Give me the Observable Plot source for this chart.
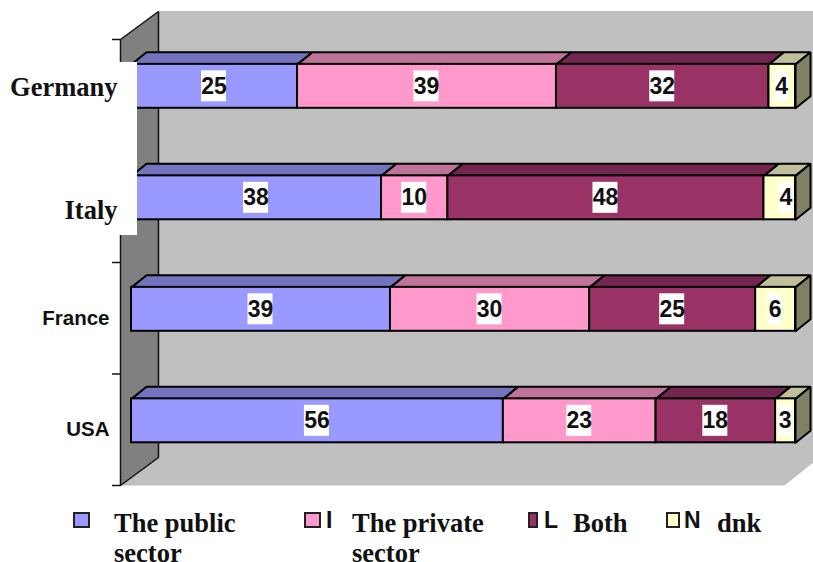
<!DOCTYPE html>
<html>
<head>
<meta charset="utf-8">
<script src="https://cdn.jsdelivr.net/npm/d3@7"></script>
<script src="https://cdn.jsdelivr.net/npm/@observablehq/plot@0.6"></script>
<style>
html,body{margin:0;padding:0;background:#fff;overflow:hidden}
#wrap{position:relative;width:813px;height:562px;overflow:hidden}
#chart{position:absolute;left:0;top:0}
#legend span,#legend i{position:absolute;display:block}
.name{font:bold 26.5px/30px "Liberation Serif","Times New Roman",serif;color:#111;white-space:pre}
.stray{font:bold 23px/22px "Liberation Sans",Arial,sans-serif;color:#111;white-space:pre}
.sw{box-sizing:border-box;border:2px solid #222}
</style>
</head>
<body>
<div id="wrap"><div id="chart"></div><div id="legend"></div></div>
<script>
// ---- data (bottom row first) ----
const rows = ["USA", "France", "Italy", "Germany"];
const series = ["The public sector", "The private sector", "Both", "dnk"];
const usaShares = [56, 23, 18, 3];
const franceShares = [39, 30, 25, 6];
const italyShares = [37.65, 10, 47.6, 4.75];
const germanyShares = [25, 39, 32, 4];
const usaLabels = [56, 23, 18, 3];
const franceLabels = [39, 30, 25, 6];
const italyLabels = [38, 10, 48, 4];
const germanyLabels = [25, 39, 32, 4];
const shares = [usaShares, franceShares, italyShares, germanyShares];
const labels = [usaLabels, franceLabels, italyLabels, germanyLabels];
const ticks = [0, 1, 2, 3, 4];

// ---- colours ----
const front = ["#9999FF", "#FF99CC", "#993366", "#FFFFCC"];
const top_ = ["#7373BF", "#BF7399", "#732650", "#BFBF99"];
const sideColor = "#808066";

// ---- 3D geometry, in scale units ----
const wallDx = 5.72, wallDy = 0.251;   // depth of the chart box
const barX = 1.66, barDx = 2.26, barDy = 0.108; // bar position and depth
const barMid = 0.58, barHalf = 0.197;
const pxX = 1 / 6.64, pxY = 1 / 111.5;

const polys = [];
const addPoly = (id, color, pts) =>
  [...pts, pts[0]].forEach(([x, y]) => polys.push({id, color, x, y}));

const fronts = [], tags = [];
rows.forEach((row, r) => {
  let a = 0;
  const yc = r + barMid, y1 = yc - barHalf, y2 = yc + barHalf;
  shares[r].forEach((v, s) => {
    const b = a + v, x1 = barX + a, x2 = barX + b;
    addPoly(`top-${r}-${s}`, top_[s], [[x1, y2], [x2, y2], [x2 + barDx, y2 + barDy], [x1 + barDx, y2 + barDy]]);
    if (s === series.length - 1)
      addPoly(`side-${r}`, sideColor, [[x2, y1], [x2 + barDx, y1 + barDy], [x2 + barDx, y2 + barDy], [x2, y2]]);
    fronts.push({x1, x2, y1, y2, color: front[s]});
    const nudge = (r === 2 && s === 3) ? 1.0 : 0;
    const text = String(labels[r][s]);
    const half = (text.length === 1 ? 7 : 12.5) * pxX;
    const mid = (x1 + x2) / 2 + nudge - 0.5 * pxX;
    tags.push({text, x: mid, y: yc, x1: mid - half, x2: mid + half,
               y1: yc - 15.5 * pxY, y2: yc + 15.5 * pxY});
    a = b;
  });
});

addPoly("wall", "#808080", [[0, 0], [wallDx, wallDy], [wallDx, 4 + wallDy], [0, 4]]);
const floor = [];
[[0, 0], [wallDx, wallDy + 0.02], [100 + wallDx, wallDy + 0.02], [100, 0], [0, 0]]
  .forEach(([x, y]) => floor.push({x, y}));

const polyLine = (data, stroke, strokeWidth) => Plot.line(data, {
  x: "x", y: "y", z: "id", fill: "color", stroke, strokeWidth, strokeLinejoin: "miter"
});
const wallPts = polys.filter(d => d.id === "wall");
const barPts = polys.filter(d => d.id !== "wall");

const mask = [{x1: -20, x2: 2.56, y1: 2.242, y2: 3.794}];
const rowNames = rows.map((name, i) => ({name, i}));
const serifText = (data, dy) => Plot.text(data, {x: -0.45, y: d => d.i + barMid, text: "name", fill: "#111",
  fontSize: 26.5, fontWeight: "bold", fontFamily: "Liberation Serif, Times New Roman, serif",
  textAnchor: "end", lineAnchor: "middle", dy});

const chart = Plot.plot({
  width: 813, height: 505,
  margin: 0,
  style: {background: "transparent"},
  x: {domain: [0, 100], range: [120, 784], axis: null},
  y: {domain: [0, 4], range: [485, 39], axis: null},
  color: {type: "identity"},
  marks: [
    Plot.rect([{}], {x1: wallDx, x2: 100 + wallDx, y1: wallDy, y2: 4 + wallDy, fill: "#C0C0C0"}),
    Plot.line(floor, {x: "x", y: "y", fill: "#C0C0C0", stroke: "none"}),
    polyLine(wallPts, "#111", 1.5),
    Plot.ruleY(ticks, {x1: -1.2, x2: 0, stroke: "#111", strokeWidth: 1.5}),
    polyLine(barPts, "#000", 2),
    Plot.rect(fronts, {x1: "x1", x2: "x2", y1: "y1", y2: "y2", fill: "color", stroke: "#000", strokeWidth: 2}),
    Plot.rect(mask, {x1: "x1", x2: "x2", y1: "y1", y2: "y2", fill: "#fff"}),
    Plot.rect(tags, {x1: "x1", x2: "x2", y1: "y1", y2: "y2", fill: "#fff"}),
    Plot.text(tags, {x: "x", y: "y", text: "text", fill: "#111", fontSize: 23, fontWeight: "bold",
      fontFamily: "Liberation Sans, Arial, sans-serif", textAnchor: "middle", lineAnchor: "middle"}),
    serifText(rowNames.filter(d => d.name === "Germany"), 1.5),
    serifText(rowNames.filter(d => d.name === "Italy"), 13),
    Plot.text(rowNames.filter(d => d.i < 2), {x: -1.66, y: d => d.i + barMid, text: "name", fill: "#111",
      fontSize: 20.5, fontWeight: "bold", fontFamily: "Liberation Sans, Arial, sans-serif",
      textAnchor: "end", lineAnchor: "middle", dy: 9})
  ]
});
document.getElementById("chart").appendChild(chart);

// ---- legend below the chart ----
const legend = document.getElementById("legend");
const swatchX = [73, 304, 528, 666], swatchW = [17, 17, 10, 14];
const nameX = [114, 352, 573, 717], nameText = ["The public\nsector", "The private\nsector", "Both", "dnk"];
const strayText = ["", "I", "L", "N"], strayX = [0, 326, 544, 684];
series.forEach((s, i) => {
  const sw = document.createElement("i");
  sw.className = "sw";
  sw.style.cssText = `left:${swatchX[i]}px;top:512px;width:${swatchW[i]}px;height:16px;background:${front[i]}`;
  legend.appendChild(sw);
  if (strayText[i]) {
    const st = document.createElement("span");
    st.className = "stray";
    st.textContent = strayText[i];
    st.style.cssText = `left:${strayX[i]}px;top:509px`;
    legend.appendChild(st);
  }
  const t = document.createElement("span");
  t.className = "name";
  t.textContent = nameText[i];
  t.style.cssText = `left:${nameX[i]}px;top:507.5px`;
  legend.appendChild(t);
});
</script>
</body>
</html>
